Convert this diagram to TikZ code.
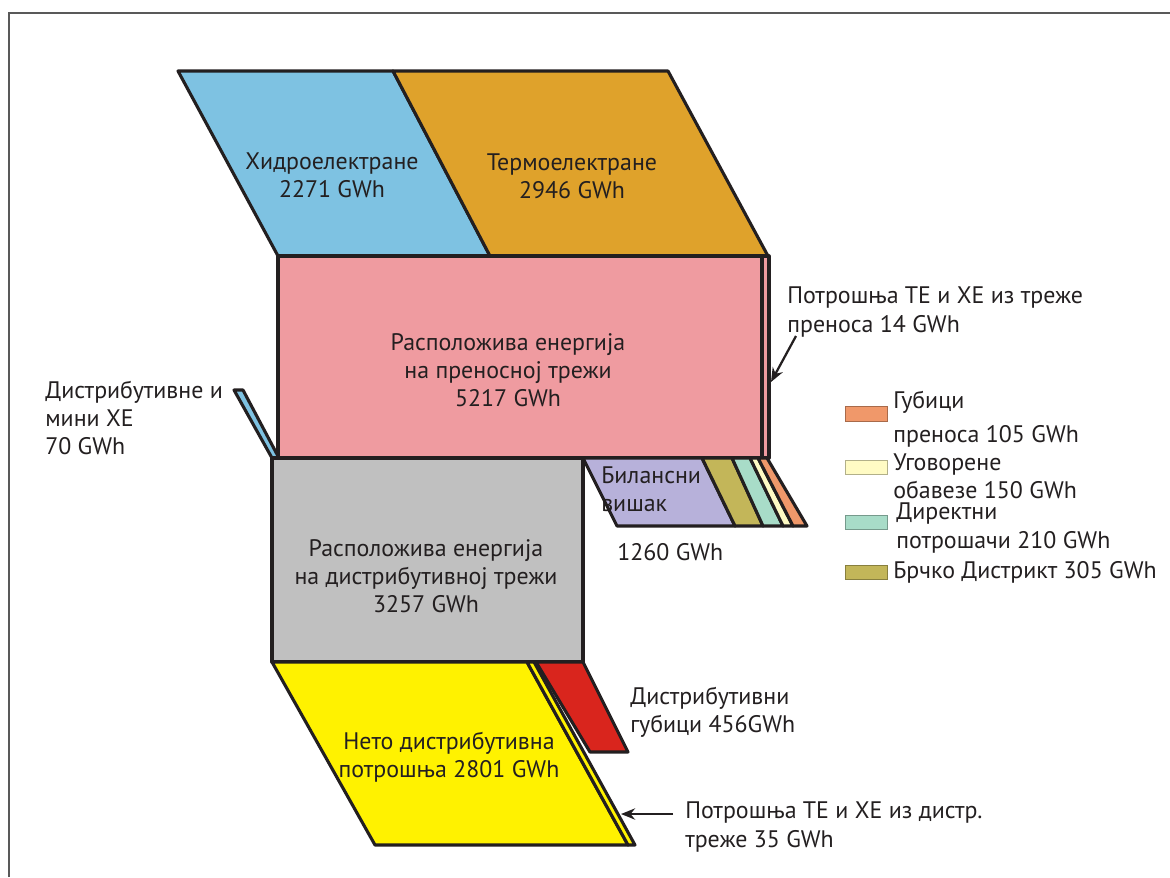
\documentclass[tikz,border=0pt]{standalone}
\usepackage{fontspec}
\setmainfont{PT Sans}
\usepackage{tikz}
\usetikzlibrary{arrows.meta,positioning}

\definecolor{hidro}{RGB}{126,194,226}
\definecolor{termo}{RGB}{223,162,43}
\definecolor{prenos}{RGB}{239,155,160}
\definecolor{distr}{RGB}{192,192,192}
\definecolor{neto}{RGB}{255,242,0}
\definecolor{gubdist}{RGB}{217,37,29}
\definecolor{visak}{RGB}{183,177,218}
\definecolor{brcko}{RGB}{195,182,89}
\definecolor{direkt}{RGB}{168,220,200}
\definecolor{ugovor}{RGB}{255,251,196}
\definecolor{gubpren}{RGB}{240,152,106}
\definecolor{txt}{RGB}{35,31,32}

\begin{document}
\begin{tikzpicture}[x=0.025cm,y=-0.025cm,
    flow/.style={draw=txt, line width=2.2pt, line join=round},
    lbl/.style={font=\fontsize{17pt}{20pt}\selectfont, text=txt, inner sep=0pt},
    key/.style={draw=#1!70!black, fill=#1, line width=0.6pt},
    arr/.style={-{Stealth[length=10pt,width=8pt]}, line width=1.6pt, draw=txt}]
	  \useasboundingbox (0,0) rectangle (1170,877);
	  \draw[gray!70!black, line width=1.4pt] (9,877) -- (9,13) -- (1170,13) ; %

	  % production
	  \filldraw[flow, fill=hidro] (178,71) -- (393,71) -- (490,256) -- (278,256) -- cycle ;
	  \filldraw[flow, fill=termo] (393,71) -- (668,71) -- (768,256) -- (490,256) -- cycle ;

	  % transmission
	  \filldraw[flow, fill=prenos] (278,256) rectangle (762,458) ;
	  \filldraw[flow, fill=prenos] (762,256) rectangle (769,458) ;
	  \filldraw[flow, fill=hidro] (234,390) -- (243,390) -- (279,458) -- (272,458) -- cycle ;

	  % balance
	  \filldraw[flow, fill=visak] (583,458) -- (702,458) -- (735,526) -- (617,526) -- cycle ;
	  \filldraw[flow, fill=brcko] (702,458) -- (732,458) -- (763,526) -- (735,526) -- cycle ;
	  \filldraw[flow, fill=direkt] (732,458) -- (750,458) -- (783,526) -- (763,526) -- cycle ;
	  \filldraw[flow, fill=ugovor] (750,458) -- (758,458) -- (793,526) -- (783,526) -- cycle ;
	  \filldraw[flow, fill=gubpren] (758,458) -- (767,458) -- (807,526) -- (793,526) -- cycle ;

	  % distribution
	  \filldraw[flow, fill=distr] (272,458) rectangle (583,662) ;
	  \filldraw[flow, fill=neto] (272,662) -- (527,662) -- (628,845) -- (375,845) -- cycle ;
	  \filldraw[flow, fill=neto] (527,662) -- (534,662) -- (635,845) -- (628,845) -- cycle ;
	  \filldraw[flow, fill=gubdist] (536,662) -- (583,662) -- (628,752) -- (590,752) -- cycle ;

	  % labels
	  \node[lbl, align=center] (hidroLbl) at (332,175) {Хидроелектране\\2271 GWh} ;
	  \node[lbl, align=center] (termoLbl) at (572,176) {Термоелектране\\2946 GWh} ;
	  \node[lbl, align=center] (prenosLbl) at (508,370) {Расположива енергија\\на преносној трежи\\5217 GWh} ;
	  \node[lbl, align=left, anchor=west] (miniLbl) at (45,418) {Дистрибутивне и\\мини ХЕ\\70 GWh} ;
	  \node[lbl, align=left, anchor=west] (vlastLbl) at (787,312) {Потрошња ТЕ и ХЕ из треже\\преноса 14 GWh} ;
	  \node[lbl, align=left, anchor=west] (visakLbl) at (601,489) {Билансни\\вишак} ;
	  \node[lbl, anchor=west] (visakVal) at (617,552) {1260 GWh} ;
	  \node[lbl, align=center] (distrLbl) at (426,576) {Расположива енергија\\на дистрибутивној трежи\\3257 GWh} ;
	  \node[lbl, align=left, anchor=west] (gubLbl) at (630,712) {Дистрибутивни\\губици 456GWh} ;
	  \node[lbl, align=center] (netoLbl) at (449,757) {Нето дистрибутивна\\потрошња 2801 GWh} ;
	  \node[lbl, align=left, anchor=west] (dvlastLbl) at (685,827) {Потрошња ТЕ и ХЕ из дистр.\\треже 35 GWh} ;

	  % legend
	  \filldraw[key=gubpren] (845,406) rectangle (887,421) ;
	  \filldraw[key=ugovor] (845,460) rectangle (887,474) ;
	  \filldraw[key=direkt] (845,515) rectangle (887,529) ;
	  \filldraw[key=brcko] (845,565) rectangle (887,579) ;
	  \node[lbl, align=left, anchor=west] (gubprLbl) at (893,419) {Губици\\[4pt]преноса 105 GWh} ;
	  \node[lbl, align=left, anchor=west] (ugovLbl) at (893,476) {Уговорене\\обавезе 150 GWh} ;
	  \node[lbl, align=left, anchor=west] (direktLbl) at (896,528) {Директни\\потрошачи 210 GWh} ;
	  \node[lbl, anchor=west] (brckoLbl) at (893,572) {Брчко Дистрикт 305 GWh} ;

	  % pointers
	  \coordinate (tsTail) at (796,336) ;
	  \coordinate (tsTip) at (771,382) ;
	  \coordinate (dtTail) at (673,814) ;
	  \coordinate (dtTip) at (621,814) ;
	  \draw[arr] (tsTail) -- (tsTip) ;
	  \draw[arr] (dtTail) -- (dtTip) ;
\end{tikzpicture}
\end{document}
